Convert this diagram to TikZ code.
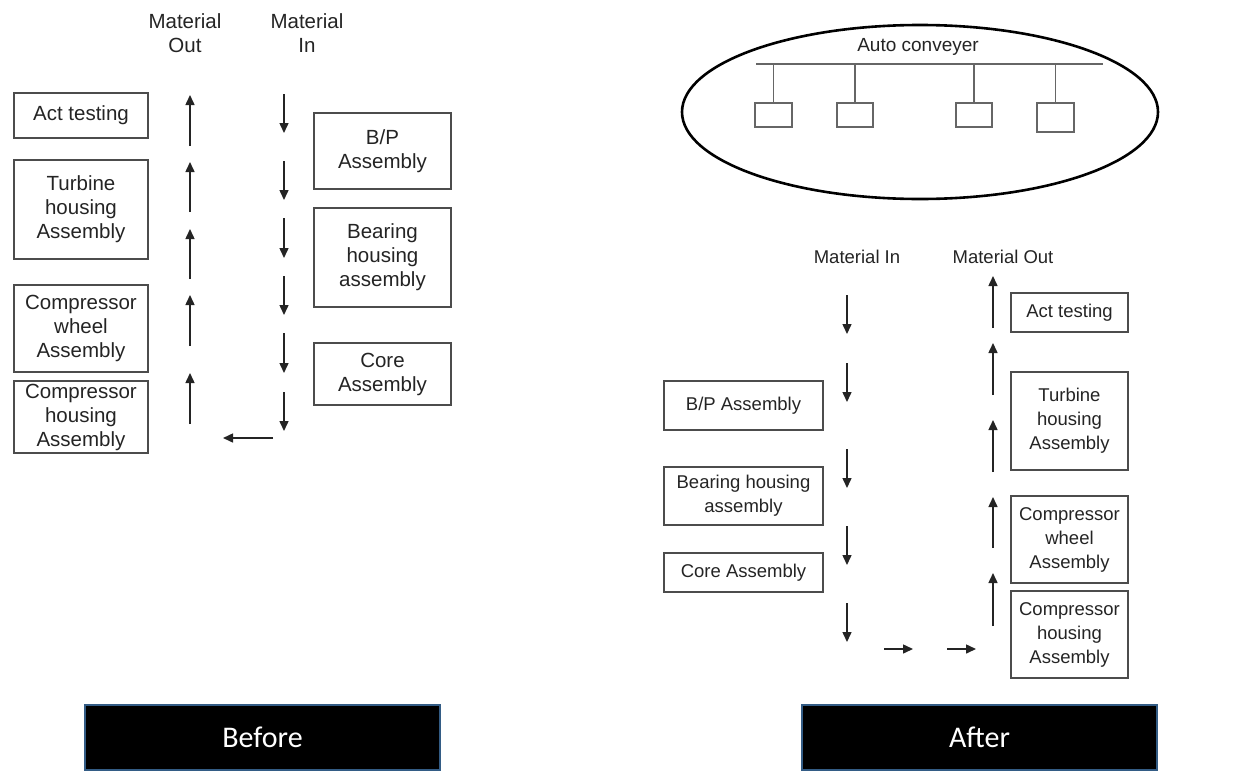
\documentclass[tikz,border=0pt]{standalone}
\usepackage{fontspec}
\setmainfont{Liberation Sans}
\newfontfamily\titlefont{Carlito}
\usetikzlibrary{positioning,arrows.meta,shapes.geometric}
\definecolor{boxgray}{rgb}{0.30,0.30,0.30}
\definecolor{txtgray}{rgb}{0.14,0.14,0.14}
\definecolor{railgray}{rgb}{0.40,0.40,0.40}
\definecolor{titleblue}{rgb}{0.20,0.36,0.52}

\begin{document}
\begin{tikzpicture}[
  x=1pt, y=-1pt,
  box/.style={draw=boxgray, line width=1.7pt, rectangle, inner sep=0pt, align=center, text=txtgray},
  bigtxt/.style={font=\fontsize{20.5}{24}\selectfont},
  smalltxt/.style={font=\fontsize{18.5}{24}\selectfont},
  lbl/.style={text=txtgray, align=center, inner sep=0pt},
  flow/.style={-{Triangle[length=10pt,width=9pt]}, line width=1.5pt, txtgray},
  cart/.style={draw=railgray, line width=1.8pt, rectangle, inner sep=0pt},
  title/.style={draw=titleblue, line width=2pt, fill=black, text=white, inner sep=0pt,
    minimum width=355, minimum height=65, font=\titlefont\fontsize{30}{32}\selectfont}
]
\useasboundingbox (0,0) rectangle (1235,774);

% ---- Before: old line
\node[lbl, bigtxt] (bout) at (185,33) {Material\\Out};
\node[lbl, bigtxt] (bin) at (307,33) {Material\\In};

\node[box, bigtxt, minimum width=134, minimum height=45] (bact) at (81,115.5) {Act testing};
\node[box, bigtxt, minimum width=134, minimum height=99] (bturb) at (81,209.5) {Turbine\\housing\\Assembly};
\node[box, bigtxt, minimum width=134, minimum height=87] (bwheel) at (81,328.5) {Compressor\\wheel\\Assembly};
\node[box, bigtxt, minimum width=134, minimum height=72] (bhous) at (81,417) {Compressor\\housing\\Assembly};

\node[box, bigtxt, minimum width=137, minimum height=76] (bbp) at (382.5,151) {B/P\\Assembly};
\node[box, bigtxt, minimum width=137, minimum height=99] (bbear) at (382.5,257.5) {Bearing\\housing\\assembly};
\node[box, bigtxt, minimum width=137, minimum height=62] (bcore) at (382.5,374) {Core\\Assembly};

% flow arrows, down the in-side, up the out-side
\foreach \a/\b [count=\i] in {94/133,161/200,218/258,276/315,333/373,392/431} {
  \coordinate (bd\i s) at (284,\a); \coordinate (bd\i e) at (284,\b);
  \draw[flow] (bd\i s) -- (bd\i e);
}
\foreach \a/\b [count=\i] in {146/95,212/162,279/229,346/295,424/373} {
  \coordinate (bu\i s) at (190,\a); \coordinate (bu\i e) at (190,\b);
  \draw[flow] (bu\i s) -- (bu\i e);
}
\coordinate (bls) at (273,438); \coordinate (ble) at (223,438);
\draw[flow] (bls) -- (ble);

\node[title] (before) at (262.5,737.5) {Before};

% ---- After: conveyer line
\node[draw, ellipse, line width=2.6pt, minimum width=476, minimum height=174, inner sep=0pt] (conv) at (920,112) {};
\node[lbl, font=\fontsize{19}{22}\selectfont] (convlbl) at (918,47) {Auto conveyer};
\coordinate (railL) at (756,64); \coordinate (railR) at (1103,64);
\draw[railgray, line width=2pt] (railL) -- (railR);
\node[cart, minimum width=37, minimum height=24] (cb1) at (773.5,115) {};
\node[cart, minimum width=36, minimum height=24] (cb2) at (855,115) {};
\node[cart, minimum width=36, minimum height=24] (cb3) at (974,115) {};
\node[cart, minimum width=37, minimum height=29] (cb4) at (1055.5,117.5) {};
\foreach \i in {1,...,4}
  \draw[railgray, line width=1.8pt] (cb\i.north) -- (cb\i.north |- railL);

\node[lbl, smalltxt] (ain) at (857,257) {Material In};
\node[lbl, smalltxt] (aout) at (1003,257) {Material Out};

\node[box, smalltxt, minimum width=159, minimum height=49] (abp) at (743.5,405.5) {B/P Assembly};
\node[box, smalltxt, minimum width=159, minimum height=58] (abear) at (743.5,496) {Bearing housing\\assembly};
\node[box, smalltxt, minimum width=159, minimum height=39] (acore) at (743.5,572.5) {Core Assembly};

\node[box, smalltxt, minimum width=117, minimum height=39] (aact) at (1069.5,312.5) {Act testing};
\node[box, smalltxt, minimum width=117, minimum height=98] (aturb) at (1069.5,421) {Turbine\\housing\\Assembly};
\node[box, smalltxt, minimum width=117, minimum height=87] (awheel) at (1069.5,539.5) {Compressor\\wheel\\Assembly};
\node[box, smalltxt, minimum width=117, minimum height=87] (ahous) at (1069.5,634.5) {Compressor\\housing\\Assembly};

\foreach \a/\b [count=\i] in {295/334,363/402,449/488,526/565,603/642} {
  \coordinate (ad\i s) at (847,\a); \coordinate (ad\i e) at (847,\b);
  \draw[flow] (ad\i s) -- (ad\i e);
}
\foreach \a/\b [count=\i] in {884/913,947/976} {
  \coordinate (ar\i s) at (\a,649); \coordinate (ar\i e) at (\b,649);
  \draw[flow] (ar\i s) -- (ar\i e);
}
\foreach \a/\b [count=\i] in {328/276,395/343,472/420,548/497,626/573} {
  \coordinate (au\i s) at (993,\a); \coordinate (au\i e) at (993,\b);
  \draw[flow] (au\i s) -- (au\i e);
}

\node[title] (after) at (979.5,737.5) {After};
\end{tikzpicture}
\end{document}
